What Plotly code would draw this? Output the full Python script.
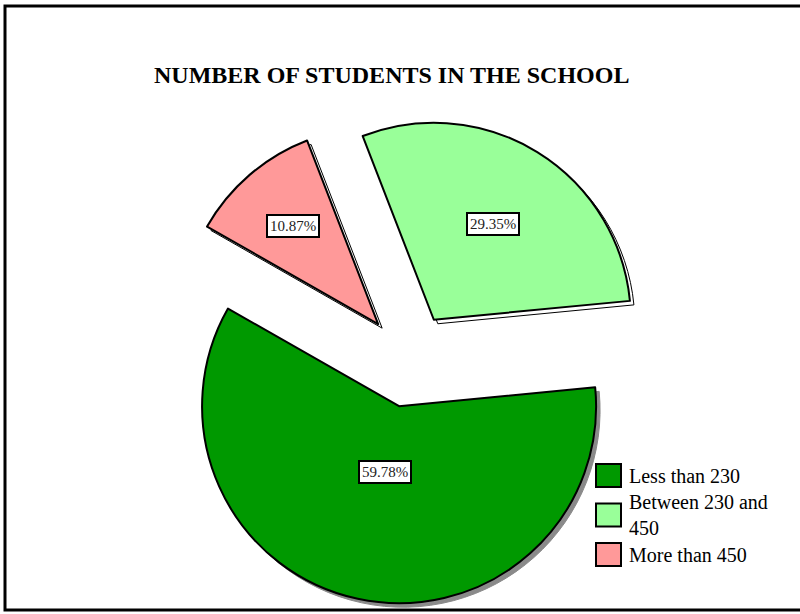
import math
import textwrap
import plotly.graph_objects as go

# Share of schools in each enrolment band (percent)
categories = ["Less than 230", "Between 230 and 450", "More than 450"]
shares = [59.78, 29.35, 10.87]
colors = ["#009900", "#99FF99", "#FF9999"]
title_text = "NUMBER OF STUDENTS IN THE SCHOOL"

SERIF = "Liberation Serif, Times New Roman, serif"

# Canvas and pie geometry (pixels)
W, H = 800, 614
cx, cy = 409, 360
radius = 197
pull = 0.24
rotation = 84.5
label_depth = [0.34, 0.57, 0.66]   # label distance from slice tip, in radii

half = radius * (1 + pull)


def pie_domain(dx=0, dy=0):
    return dict(
        x=[(cx - half + dx) / W, (cx + half + dx) / W],
        y=[1 - (cy + half + dy) / H, 1 - (cy - half + dy) / H],
    )


fig = go.Figure()

# Drop shadow under the exploded slices
fig.add_trace(go.Pie(
    labels=categories, values=shares, sort=False,
    direction="counterclockwise", rotation=rotation,
    pull=[pull] * len(shares),
    marker=dict(colors=["#8a8a8a", "white", "white"],
                line=dict(color=["#8a8a8a", "black", "black"], width=1)),
    textinfo="none", hoverinfo="skip", showlegend=False,
    domain=pie_domain(4, 4),
))

# Main pie
fig.add_trace(go.Pie(
    labels=categories, values=shares, sort=False,
    direction="counterclockwise", rotation=rotation,
    pull=[pull] * len(shares),
    marker=dict(colors=colors, line=dict(color="black", width=2)),
    textinfo="none", showlegend=False,
    domain=pie_domain(),
))

# Percentage labels placed along each slice's bisector
total = sum(shares)
start = rotation + 360 * shares[0] / total
annotations = []
for i, v in enumerate(shares):
    span = 360 * v / total
    mid = math.radians(start - span / 2)
    start -= span
    dist = (pull + label_depth[i]) * radius
    px = cx + dist * math.sin(mid)
    py = cy - dist * math.cos(mid)
    annotations.append(dict(
        x=px / W, y=1 - py / H, xref="paper", yref="paper",
        xanchor="center", yanchor="middle",
        text=f"{v:.2f}%", showarrow=False,
        font=dict(family=SERIF, size=15, color="#222222"),
        bgcolor="white", bordercolor="black", borderwidth=2, borderpad=2,
    ))

# Legend drawn as swatches with wrapped labels
shapes = []
sw_x0, sw_x1 = 596, 621
sw_top, sw_h, sw_step = 464, 23, 39.5
for i, (name, col) in enumerate(zip(categories, colors)):
    y0 = sw_top + i * sw_step
    shapes.append(dict(
        type="rect", xref="paper", yref="paper",
        x0=sw_x0 / W, x1=sw_x1 / W, y0=1 - y0 / H, y1=1 - (y0 + sw_h) / H,
        fillcolor=col, line=dict(color="black", width=2),
    ))
    lines = textwrap.wrap(name, width=16)
    ymid = y0 + sw_h / 2
    annotations.append(dict(
        x=627 / W, y=1 - ymid / H, xref="paper", yref="paper",
        xanchor="left", yanchor="middle", align="left",
        text="<br>".join(lines), showarrow=False,
        font=dict(family=SERIF, size=20, color="black"),
    ))

# Chart-area frame
shapes.append(dict(
    type="rect", xref="paper", yref="paper",
    x0=5 / W, x1=1.02, y0=1 - 6 / H, y1=1 - 610 / H,
    line=dict(color="black", width=3), fillcolor="rgba(0,0,0,0)",
))

annotations.append(dict(
    x=391 / W, y=1 - 75 / H, xref="paper", yref="paper",
    xanchor="center", yanchor="middle",
    text=f"<b>{title_text}</b>", showarrow=False,
    font=dict(family=SERIF, size=24, color="black"),
))

fig.update_layout(
    width=W, height=H,
    margin=dict(l=0, r=0, t=0, b=0),
    paper_bgcolor="white", plot_bgcolor="white",
    showlegend=False,
    shapes=shapes, annotations=annotations,
)

fig.write_html("out.html")
